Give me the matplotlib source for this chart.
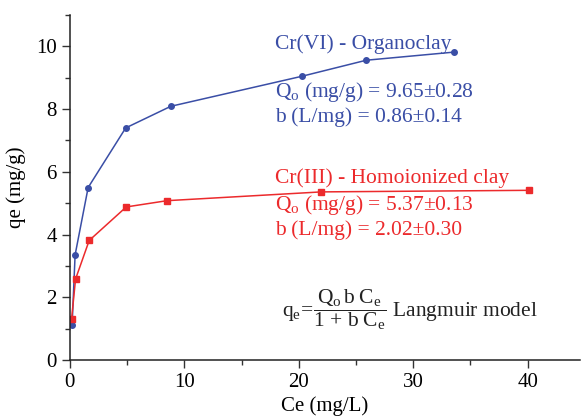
import matplotlib
matplotlib.use("Agg")
import matplotlib.pyplot as plt
from matplotlib.ticker import MultipleLocator

plt.rcParams["font.family"] = ["Liberation Serif", "DejaVu Serif"]
plt.rcParams["mathtext.fontset"] = "custom"
plt.rcParams["mathtext.rm"] = "Liberation Serif"
plt.rcParams["mathtext.it"] = "Liberation Serif:italic"

# Cr(VI) on organoclay
ce_org = [0.2, 0.46, 1.6, 4.88, 8.82, 20.3, 25.9, 33.6]
qe_org = [1.12, 3.35, 5.5, 7.4, 8.09, 9.05, 9.56, 9.82]
# Cr(III) on homoionized clay
ce_hom = [0.15, 0.5, 1.69, 4.93, 8.5, 21.98, 40.1]
qe_hom = [1.3, 2.58, 3.81, 4.88, 5.08, 5.36, 5.41]

BLUE = "#3a4ea6"
RED = "#ec2a2c"
FS = 15.5

fig = plt.figure(figsize=(5.82, 4.19), dpi=100)
ax = fig.add_axes([0.120, 0.141, 0.877, 0.823])

ax.plot(ce_org, qe_org, "-o", color=BLUE, lw=1.1, ms=4)
ax.plot(ce_hom, qe_hom, "-s", color=RED, lw=1.1, ms=4)

ax.set_xlim(0, 44.6)
ax.set_ylim(0, 11)
ax.xaxis.set_major_locator(MultipleLocator(10))
ax.xaxis.set_minor_locator(MultipleLocator(5))
ax.yaxis.set_major_locator(MultipleLocator(2))
ax.yaxis.set_minor_locator(MultipleLocator(1))
ax.tick_params(which="major", length=6, width=1, labelsize=15, color="#333333")
ax.tick_params(which="minor", length=3.5, width=1, color="#333333")
for s in ("top", "right"):
    ax.spines[s].set_visible(False)
for s in ("left", "bottom"):
    ax.spines[s].set_linewidth(1.1)
    ax.spines[s].set_color("#222222")

ax.set_xlabel("Ce (mg/L)", fontsize=15, labelpad=3)
ax.set_ylabel("qe (mg/g)", fontsize=15, labelpad=7)

ax.text(17.9, 10.06, "Cr(VI) - Organoclay", color=BLUE, fontsize=FS, va="center")
ax.text(17.9, 8.56, r"Q$_\mathregular{o}$ (mg/g) = 9.65±0.28", color=BLUE, fontsize=FS, va="center")
ax.text(17.9, 7.73, "b (L/mg) = 0.86±0.14", color=BLUE, fontsize=FS, va="center")

ax.text(17.9, 5.81, "Cr(III) - Homoionized clay", color=RED, fontsize=FS, va="center")
ax.text(17.9, 4.95, r"Q$_\mathregular{o}$ (mg/g) = 5.37±0.13", color=RED, fontsize=FS, va="center")
ax.text(17.9, 4.15, "b (L/mg) = 2.02±0.30", color=RED, fontsize=FS, va="center")

ax.text(18.5, 1.6,
        r"$\mathregular{q_e\!=\!\dfrac{Q_o\,b\;C_e}{1\,+\,b\;C_e}}$ Langmuir model",
        color="#222222", fontsize=15.5, va="center")

fig.savefig("out.png", dpi=100)
